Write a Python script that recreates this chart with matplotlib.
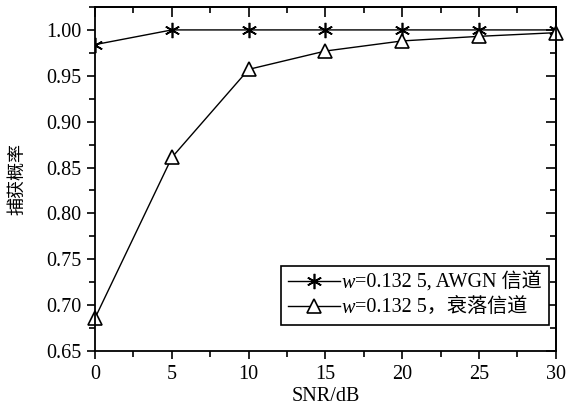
import numpy as np
import matplotlib
matplotlib.use('Agg')
import matplotlib.pyplot as plt
from matplotlib.ticker import MultipleLocator, FormatStrFormatter, NullFormatter

plt.rcParams['font.family'] = ['Liberation Serif', 'Noto Sans CJK SC']

# data
snr = [0, 5, 10, 15, 20, 25, 30]
p_awgn = [0.984, 1.0, 1.0, 1.0, 1.0, 1.0, 1.0]
p_fading = [0.686, 0.861, 0.957, 0.977, 0.988, 0.993, 0.997]
labels = ['=0.132 5, AWGN 信道', '=0.132 5，衰落信道']

fig = plt.figure(figsize=(5.66, 4.11), dpi=100)
ax = fig.add_axes([0.168, 0.146, 0.814, 0.837])

ax.plot(snr, p_awgn, color='black', lw=1.0, marker=(6, 2, 0), markersize=11,
        markeredgewidth=1.2, label=labels[0])
ax.plot(snr, p_fading, color='black', lw=1.0, marker='^', markersize=10,
        markerfacecolor='white', markeredgewidth=1.2, label=labels[1], clip_on=False)

ax.set_xlim(0, 30)
ax.set_ylim(0.65, 1.025)
ax.xaxis.set_major_locator(MultipleLocator(5))
ax.xaxis.set_minor_locator(MultipleLocator(2.5))
ax.yaxis.set_major_locator(MultipleLocator(0.05))
ax.yaxis.set_minor_locator(MultipleLocator(0.025))
ax.yaxis.set_major_formatter(FormatStrFormatter('%.2f'))
ax.tick_params(which='both', direction='out', width=1.2, labelsize=14.5)
ax.tick_params(which='major', length=6, pad=4)
ax.tick_params(which='minor', length=4)
for s in ax.spines.values():
    s.set_linewidth(1.3)

# top / right ticks point inward
top = ax.secondary_xaxis('top')
top.xaxis.set_major_locator(MultipleLocator(5))
top.xaxis.set_minor_locator(MultipleLocator(2.5))
top.xaxis.set_major_formatter(NullFormatter())
right = ax.secondary_yaxis('right')
right.yaxis.set_major_locator(MultipleLocator(0.05))
right.yaxis.set_minor_locator(MultipleLocator(0.025))
right.yaxis.set_major_formatter(NullFormatter())
for sec in (top, right):
    sec.tick_params(which='both', direction='in', width=1.2)
    sec.tick_params(which='major', length=7)
    sec.tick_params(which='minor', length=4)
    for s in sec.spines.values():
        s.set_linewidth(1.3)

ax.set_xlabel('SNR/dB', fontsize=14.5, labelpad=2)
ax.set_ylabel('捕获概率', fontsize=13, labelpad=14)

leg = ax.legend(loc='lower right', bbox_to_anchor=(0.985, 0.075), fontsize=14.5,
                fancybox=False, edgecolor='black', framealpha=1, handlelength=2.6,
                borderpad=0.35, labelspacing=0.3, handletextpad=0.75, borderaxespad=0)
leg.get_frame().set_linewidth(1.2)

# italic w in front of each legend label
fig.canvas.draw()
for t in leg.get_texts():
    bb = t.get_window_extent()
    fig.text(bb.x0, bb.y0, 'w', transform=None, ha='right', va='bottom',
             fontsize=14.5, fontstyle='italic', family=['Liberation Serif'])

fig.savefig('out.png', dpi=100)
